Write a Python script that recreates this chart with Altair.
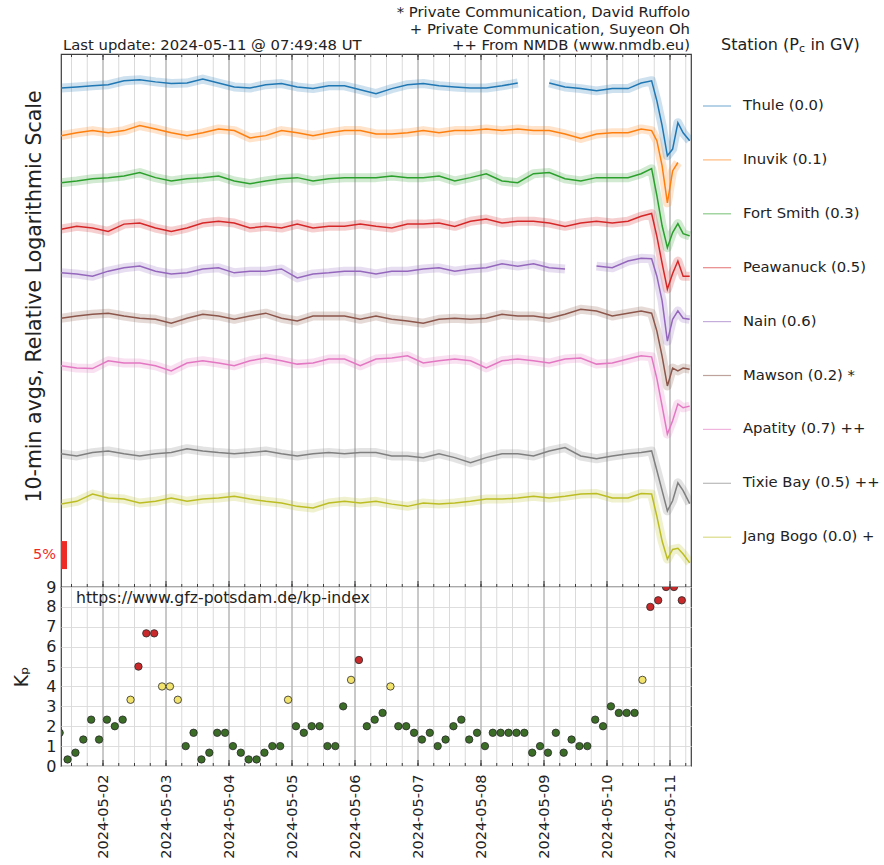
import altair as alt
import pandas as pd

# ---- neutron monitor stations -------------------------------------------
STATIONS = ["Thule", "Inuvik", "Fort Smith", "Peawanuck", "Nain",
            "Mawson", "Apatity", "Tixie Bay", "Jang Bogo"]
CUTOFF_GV = ["0.0", "0.1", "0.3", "0.5", "0.6", "0.2", "0.7", "0.5", "0.0"]
SOURCE_MARK = ["", "", "", "", "", " *", " ++", " ++", " +"]
COLORS = ["#1f77b4", "#ff7f0e", "#2ca02c", "#d62728", "#9467bd",
          "#8c564b", "#e377c2", "#7f7f7f", "#bcbd22"]
# vertical offset of each trace on the relative log axis (percent units)
OFFSETS = [89.5, 81.3, 72.9, 64.6, 56.6, 48.2, 40.2, 23.8, 15.5]

# sample times: hours after 2024-05-01 08:00 UT
HOURS = list(range(0, 217, 6)) + [221, 225, 227, 229, 231, 233, 235, 237, 239.5]

# count-rate change in percent (None = data gap)
THULE = [-0.4, -0.2, 0.0, 0.2, 0.9, 1.1, 0.7, 0.4, 0.5, 1.2, 0.5, -0.2, -0.4, 0.2, 0.4,
         -0.2, -0.5, 0.0, 0.0, -0.7, -1.4, -0.5, 0.2, 0.4, 0.0, -0.2, -0.4, -0.4, 0.0,
         0.5, None, 0.5, -0.2, -0.5, -0.9, -0.5, -0.5,
         0.5, 0.9, -2.7, -7.1, -12.5, -11.3, -6.6, -8.4, -9.8]
INUVIK = [-0.7, -0.2, 0.2, -0.2, 0.2, 1.1, 0.5, -0.2, -0.7, -0.2, 0.5, 0.2, -1.1, -0.7, 0.2,
          -0.2, -0.7, -0.2, 0.2, 0.2, -0.4, -0.4, -0.2, 0.2, -0.2, 0.2, 0.2, 0.5, 0.2,
          0.5, 0.2, 0.2, -0.4, -1.2, -0.4, -0.2, -0.2,
          0.5, 0.2, -1.6, -6.1, -12.7, -7.0, -5.5, None, None]
FORT_SMITH = [-0.7, -0.4, 0.0, 0.2, 0.5, 1.1, 0.2, -0.4, 0.0, 0.2, 0.5, -0.4, -0.9, -0.4, 0.0,
              0.2, -0.4, 0.0, 0.2, 0.2, 0.2, 0.5, 0.2, 0.2, 0.5, -0.4, 0.2, 0.9, -0.4,
              -0.7, 0.9, 1.1, 0.0, -0.4, 0.2, 0.2, 0.2,
              0.9, 1.8, -3.0, -8.4, -12.3, -9.6, -8.0, -9.8, -10.2]
PEAWANUCK = [-0.7, -0.2, -0.5, -1.1, 0.2, 0.4, -0.5, -1.1, -0.5, 0.4, 0.7, 0.4, -0.5, -0.2, -0.5,
             0.2, -0.5, -0.2, -0.2, 0.2, -0.2, -0.5, 0.2, 0.2, 0.4, -0.2, 0.7, 1.1, 0.4,
             0.7, 0.7, 0.4, -0.2, 0.4, 0.7, 0.4, 0.7,
             1.6, 2.1, -2.0, -6.8, -11.4, -8.6, -6.4, -9.1, -9.1]
NAIN = [-0.5, -0.7, -1.1, -0.2, 0.4, 0.7, -0.2, -0.7, -0.5, 0.2, 0.4, -0.5, -0.2, -0.2, 0.2,
        -1.4, -0.7, -0.5, -0.2, -0.2, -0.7, -0.2, -0.2, 0.2, 0.4, -0.2, 0.2, 0.4, 1.1,
        0.7, 1.1, 0.4, 0.2, None, 0.7, 0.4, 1.6,
        2.1, 2.0, -1.1, -5.5, -12.7, -8.8, -7.3, -8.6, -8.8]
MAWSON = [-0.2, 0.2, 0.5, 0.7, 0.2, -0.2, -0.4, -1.1, -0.2, 0.5, 0.2, -0.4, 0.2, 0.7, -0.2,
          -0.7, 0.2, 0.2, 0.2, -0.4, 0.2, -0.4, -0.7, -1.1, -0.4, -0.2, -0.4, -0.2, 0.5,
          0.2, 0.2, -0.2, 0.5, 1.4, 1.1, 0.2, 0.7,
          1.1, 0.7, -2.5, -7.0, -12.3, -9.1, -9.6, -9.1, -9.3]
APATITY = [-0.7, -1.1, -1.2, 0.2, -0.2, -0.2, -0.7, -1.6, -0.2, 0.2, -0.2, -0.7, 0.2, 0.7, 0.2,
           -0.4, -0.2, 0.5, 0.5, -0.7, 0.5, 0.7, 1.1, -0.2, 0.2, 0.5, 0.2, -1.1, 0.2,
           0.5, 0.2, -0.2, 0.5, 0.7, -0.4, -0.2, 0.5,
           1.1, 0.9, -3.0, -7.9, -12.9, -10.5, -7.5, -8.2, -7.9]
TIXIE_BAY = [0.0, -0.4, 0.2, 0.5, 0.0, -0.4, 0.0, 0.2, 0.9, 0.5, 0.2, 0.0, 0.2, 0.5, 0.0,
             -0.4, 0.0, 0.2, 0.0, 0.2, 0.2, -0.4, -0.4, -0.7, 0.0, -0.7, -1.6, -0.7, 0.0,
             0.0, -0.4, 0.5, 1.1, -0.4, -0.9, -0.4, 0.0,
             0.2, 0.5, -3.0, -6.6, -10.2, -8.4, -5.2, -6.6, -8.9]
JANG_BOGO = [-0.7, -0.2, 1.1, 0.4, 0.2, -0.5, -0.2, 0.4, -0.2, 0.2, 0.4, 0.7, 0.2, -0.2, -0.5,
             -1.1, -1.4, -0.5, -0.2, -0.5, -0.2, -0.7, -1.1, -0.5, -0.7, -0.5, -0.2, 0.2, 0.2,
             0.4, 0.7, 0.4, 0.7, 1.1, 1.2, 0.4, 0.4,
             1.2, 1.1, -2.9, -7.3, -10.5, -8.8, -8.6, -9.6, -11.2]
SERIES = [THULE, INUVIK, FORT_SMITH, PEAWANUCK, NAIN, MAWSON, APATITY, TIXIE_BAY, JANG_BOGO]

# ---- planetary Kp index, 3-hourly, first value centred on 2024-05-01 07:30 UT
KP_VALUES = [1.67, 0.33, 0.67, 1.33, 2.33, 1.33,
             2.33, 2.0, 2.33, 3.33, 5.0, 6.67, 6.67, 4.0,
             4.0, 3.33, 1.0, 1.67, 0.33, 0.67, 1.67, 1.67,
             1.0, 0.67, 0.33, 0.33, 0.67, 1.0, 1.0, 3.33,
             2.0, 1.67, 2.0, 2.0, 1.0, 1.0, 3.0, 4.33,
             5.33, 2.0, 2.33, 2.67, 4.0, 2.0, 2.0, 1.67,
             1.33, 1.67, 1.0, 1.33, 2.0, 2.33, 1.33, 1.67,
             1.0, 1.67, 1.67, 1.67, 1.67, 1.67, 0.67, 1.0,
             0.67, 1.67, 0.67, 1.33, 1.0, 1.0, 2.33, 2.0,
             3.0, 2.67, 2.67, 2.67, 4.33, 8.0, 8.33, 9.0,
             9.0, 8.33]
KP_CLASSES = ["quiet", "active", "storm"]
KP_COLORS = ["#3b6d27", "#f1e36e", "#c9292b"]

SCALE_BAR_PCT = 5
NOTES = ["* Private Communication, David Ruffolo",
         "+ Private Communication, Suyeon Oh",
         "++ From NMDB (www.nmdb.eu)"]
LAST_UPDATE = "Last update: 2024-05-11 @ 07:49:48 UT"
KP_SOURCE = "https://www.gfz-potsdam.de/kp-index"

# ---- layout ----------------------------------------------------------------
FONT = "DejaVu Sans"
W, H_TOP, H_KP = 630, 533, 179
START = pd.Timestamp("2024-05-01T08:00:00")
KP_START = pd.Timestamp("2024-05-01T07:30:00")
FRAME = "#3c3c3c"


def iso(ts):
    return ts.strftime("%Y-%m-%dT%H:%M:%SZ")


rows = []
for name, off, vals in zip(STATIONS, OFFSETS, SERIES):
    for h, v in zip(HOURS, vals):
        rows.append({"station": name,
                     "t": iso(START + pd.Timedelta(hours=h)),
                     "level": None if v is None else off + v})
nm = pd.DataFrame(rows)

kp = pd.DataFrame({
    "t": [iso(KP_START + pd.Timedelta(hours=3 * i)) for i in range(len(KP_VALUES))],
    "kp": KP_VALUES,
})
kp["cls"] = ["storm" if v >= 5 else ("active" if v > 3.2 else "quiet") for v in KP_VALUES]

minor = pd.DataFrame({"t": [iso(t) for t in pd.date_range("2024-05-01T12:00", "2024-05-11T06:00", freq="6h")]})
major = pd.DataFrame({"t": [iso(t) for t in pd.date_range("2024-05-02", "2024-05-11", freq="1D")]})

X_SCALE = alt.Scale(type="utc", nice=False, domain=[
    alt.DateTime(year=2024, month=5, date=1, hours=8, utc=True),
    alt.DateTime(year=2024, month=5, date=11, hours=8, utc=True)])
Y_SCALE = alt.Scale(domain=[0, H_TOP / 5.6], nice=False, zero=False)
Y_AXIS = alt.Axis(title="10-min avgs, Relative Logarithmic Scale", labels=False, ticks=False,
                  domain=False, grid=False, titleFontSize=20.5, titleFontWeight="normal",
                  titlePadding=17, titleY=242)
COLOR = alt.Color("station:N", scale=alt.Scale(domain=STATIONS, range=COLORS), legend=None)
X_TOP = alt.X("t:T", scale=X_SCALE, axis=None)


def grid_rules(df, color, x):
    return alt.Chart(df).mark_rule(color=color, strokeWidth=1).encode(x=x)


def inner_ticks(df, x, y0, y1):
    # short tick marks drawn inside the frame
    return alt.Chart(df).mark_rule(color=FRAME, strokeWidth=1).encode(
        x=x, y=alt.value(y0), y2=alt.value(y1))


# ---- top panel: station traces ----------------------------------------------
base = alt.Chart(nm).encode(x=X_TOP, y=alt.Y("level:Q", scale=Y_SCALE, axis=Y_AXIS), color=COLOR)
halo = base.mark_line(strokeWidth=9, opacity=0.22, strokeJoin="round", clip=True)
trace = base.mark_line(strokeWidth=1.5, clip=True)

bar_df = pd.DataFrame({"level": [3.2], "hi": [3.2 + SCALE_BAR_PCT],
                       "mid": [3.2 + SCALE_BAR_PCT / 2], "txt": [f"{SCALE_BAR_PCT}%"]})
scale_bar = alt.Chart(bar_df).mark_rule(color="#ee2b25", strokeWidth=6).encode(
    x=alt.value(3), y=alt.Y("level:Q", scale=Y_SCALE, axis=Y_AXIS), y2="hi:Q")
scale_txt = alt.Chart(bar_df).mark_text(color="#ee2b25", fontSize=14.5, align="right",
                                        baseline="middle", font=FONT).encode(
    x=alt.value(-5), y=alt.Y("mid:Q", scale=Y_SCALE, axis=Y_AXIS), text="txt:N")

leg = pd.DataFrame({
    "station": STATIONS,
    "label": [f"{s} ({p}){m}" for s, p, m in zip(STATIONS, CUTOFF_GV, SOURCE_MARK)],
    "ly": [52 + 53.9 * i for i in range(len(STATIONS))],
})
leg_lines = alt.Chart(leg).mark_rule(strokeWidth=1.2, opacity=0.55).encode(
    x=alt.value(642), x2=alt.value(670), y=alt.Y("ly:Q", scale=None, axis=None), color=COLOR)
leg_text = alt.Chart(leg).mark_text(align="left", baseline="middle", fontSize=14.8,
                                    font=FONT, color="#222").encode(
    x=alt.value(682), y=alt.Y("ly:Q", scale=None, axis=None), text="label:N")

title_parts = pd.DataFrame({"txt": ["Station (P", "c", "in GV)"],
                            "tx": [660, 737.9, 749.4],
                            "ty": [-9, -5, -9],
                            "fs": [16, 11, 16]})
leg_title = alt.Chart(title_parts).mark_text(align="left", baseline="middle", font=FONT,
                                             color="#222").encode(
    x=alt.X("tx:Q", scale=None, axis=None), y=alt.Y("ty:Q", scale=None, axis=None),
    text="txt:N", size=alt.Size("fs:Q", scale=None, legend=None))

notes = pd.DataFrame({"txt": NOTES, "ny": [-41, -24.5, -8]})
notes_text = alt.Chart(notes).mark_text(align="right", baseline="middle", fontSize=14.8,
                                        font=FONT, color="#222").encode(
    x=alt.value(629), y=alt.Y("ny:Q", scale=None, axis=None), text="txt:N")
update_text = alt.Chart(pd.DataFrame({"txt": [LAST_UPDATE]})).mark_text(
    align="left", baseline="middle", fontSize=14.8, font=FONT, color="#222").encode(
    x=alt.value(2), y=alt.value(-8), text="txt:N")

top = alt.layer(
    grid_rules(minor, "#dadada", X_TOP), grid_rules(major, "#a4a4a4", X_TOP),
    inner_ticks(minor, X_TOP, 0, 3), inner_ticks(major, X_TOP, 0, 6),
    inner_ticks(minor, X_TOP, H_TOP - 3, H_TOP), inner_ticks(major, X_TOP, H_TOP - 6, H_TOP),
    halo, trace, scale_bar, scale_txt,
    leg_lines, leg_text, leg_title, notes_text, update_text,
).properties(width=W, height=H_TOP)

# ---- bottom panel: Kp index -------------------------------------------------
X_KP = alt.X("t:T", scale=X_SCALE, title=None, axis=alt.Axis(
    values=[alt.DateTime(year=2024, month=5, date=d, utc=True) for d in range(2, 12)],
    format="%Y-%m-%d", labelAngle=270, labelFontSize=14.5, labelPadding=8,
    ticks=False, grid=False, domain=False))
Y_KP = alt.Y("kp:Q", scale=alt.Scale(domain=[0, 9], nice=False), axis=alt.Axis(
    values=list(range(10)), title="Kₚ", titleFontSize=19, titleFontWeight="normal",
    titlePadding=14, labelFontSize=16, labelPadding=5, ticks=False, domain=False,
    grid=True, gridColor="#dedede"))

kp_pts = alt.Chart(kp).mark_circle(size=55, opacity=1, stroke="#2a2a2a", strokeWidth=0.8,
                                   clip=True).encode(
    x=X_KP, y=Y_KP,
    fill=alt.Fill("cls:N", scale=alt.Scale(domain=KP_CLASSES, range=KP_COLORS), legend=None))
kp_src = alt.Chart(pd.DataFrame({"txt": [KP_SOURCE]})).mark_text(
    align="left", baseline="middle", fontSize=15.7, font=FONT, color="#222").encode(
    x=alt.value(15), y=alt.value(11), text="txt:N")

bottom = alt.layer(
    grid_rules(minor, "#dadada", X_KP), grid_rules(major, "#a4a4a4", X_KP),
    inner_ticks(minor, X_KP, H_KP - 3, H_KP), inner_ticks(major, X_KP, H_KP - 6, H_KP),
    kp_pts, kp_src,
).properties(width=W, height=H_KP)

chart = alt.vconcat(top, bottom, spacing=0, bounds="flush").resolve_scale(
    color="independent", fill="independent"
).configure_view(
    stroke=FRAME, strokeWidth=1.2
).configure_axis(
    labelFont=FONT, titleFont=FONT, labelColor="#222", titleColor="#222"
).properties(
    background="white", padding={"left": 12, "top": 4, "right": 0, "bottom": 0}
)

chart.save("out.html", embed_options={"renderer": "svg", "actions": False})
